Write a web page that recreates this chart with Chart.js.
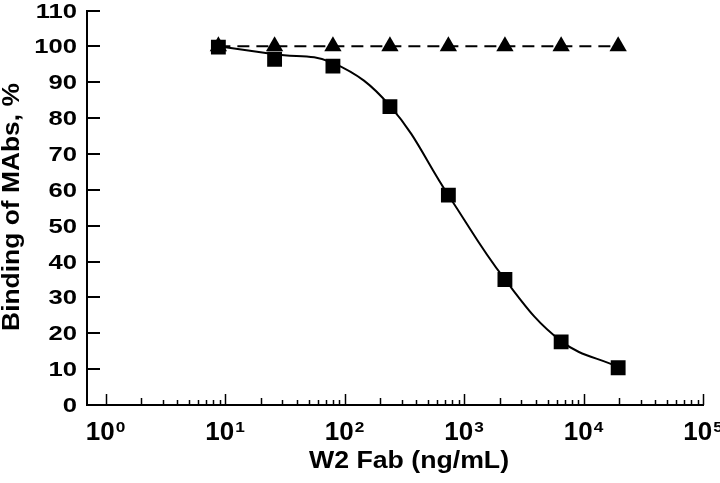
<!DOCTYPE html>
<html>
<head>
<meta charset="utf-8">
<script src="https://cdn.jsdelivr.net/npm/chart.js@4/dist/chart.umd.min.js"></script>
<style>
  body { margin: 0; background: #fff; }
  canvas { display: block; }
</style>
</head>
<body>
<canvas id="myChart" width="720" height="483"></canvas>
<script>
// concentracion de W2 Fab (ng/mL), eje x logaritmico
const xValues = [8.8, 26, 80, 240, 740, 2200, 6500, 19500]
// union de MAbs (%) - cuadrados
const squareValues = [99.8, 96.4, 94.5, 83.2, 58.5, 35, 17.6, 10.4]
const fitValues = [100, 97.8, 95.4, 83.4, 58.5, 35, 17.8, 10.6]
// union de MAbs (%) - triangulos con linea discontinua
const triangleValues = [100, 100, 100, 100, 100, 100, 100, 100]

const xTickPowers = [0, 1, 2, 3, 4, 5]
const yTickValues = [0, 10, 20, 30, 40, 50, 60, 70, 80, 90, 100, 110]
const xTitle = 'W2 Fab (ng/mL)'
const yTitle = 'Binding of MAbs, %'

const FONT = '"Liberation Sans", Arial, Helvetica, sans-serif'

function drawText (ctx, text, x, y, size, sx, align, baseline) {
  ctx.save()
  ctx.translate(x, y)
  ctx.scale(sx, 1)
  ctx.font = 'bold ' + size + 'px ' + FONT
  ctx.textAlign = align
  ctx.textBaseline = baseline
  ctx.fillStyle = '#000'
  ctx.fillText(text, 0, 0)
  ctx.restore()
}

// Marcas hacia adentro y etiquetas (con superindice en el eje x)
const axesPlugin = {
  id: 'axesPlugin',
  afterDraw (chart) {
    const ctx = chart.ctx
    const xs = chart.scales.x
    const ys = chart.scales.y
    const area = chart.chartArea
    ctx.save()
    ctx.strokeStyle = '#000'
    ctx.lineWidth = 2

    // eje y
    for (const v of yTickValues) {
      const py = Math.round(ys.getPixelForValue(v))
      ctx.beginPath()
      ctx.moveTo(area.left, py)
      ctx.lineTo(area.left + 13, py)
      ctx.stroke()
      drawText(ctx, String(v), 77, py + 1, 21, 1.22, 'right', 'middle')
    }

    // eje x
    ctx.lineWidth = 1.5
    for (const p of xTickPowers) {
      for (let k = 1; k <= 9; k++) {
        const val = k * Math.pow(10, p)
        if (val > xs.max || val < xs.min) continue
        const px = Math.round(xs.getPixelForValue(val)) + 0.5
        const len = k === 1 ? 11 : (k === 2 ? 7 : 5)
        ctx.beginPath()
        ctx.moveTo(px, area.bottom)
        ctx.lineTo(px, area.bottom - len)
        ctx.stroke()
      }
    }

    for (const p of xTickPowers) {
      const px = xs.getPixelForValue(Math.pow(10, p))
      ctx.font = 'bold 25px ' + FONT
      const wBase = ctx.measureText('10').width * 1.04
      ctx.font = 'bold 15px ' + FONT
      const wSup = ctx.measureText(String(p)).width * 1.15
      const start = px - (wBase + 1 + wSup) / 2
      drawText(ctx, '10', start, 440, 25, 1.04, 'left', 'alphabetic')
      drawText(ctx, String(p), start + wBase + 1, 432, 15, 1.15, 'left', 'alphabetic')
    }

    // titulos
    drawText(ctx, xTitle, 409, 468, 23, 1.16, 'center', 'alphabetic')
    ctx.save()
    ctx.translate(19, 207)
    ctx.rotate(-Math.PI / 2)
    drawText(ctx, yTitle, 0, 0, 24, 1.1, 'center', 'alphabetic')
    ctx.restore()

    ctx.restore()
  }
}

const data = {
  datasets: [
    {
      label: 'Curva',
      data: xValues.map((x, i) => ({ x, y: fitValues[i] })),
      borderColor: '#000',
      borderWidth: 2,
      tension: 0.4,
      pointRadius: 0,
      order: 3
    },
    {
      label: 'Cuadrados',
      data: xValues.map((x, i) => ({ x, y: squareValues[i] })),
      backgroundColor: '#000',
      showLine: false,
      pointStyle: 'rect',
      pointRadius: 10.5,
      pointBorderWidth: 0,
      order: 1
    },
    {
      label: 'Triangulos',
      data: xValues.map((x, i) => ({ x, y: triangleValues[i] })),
      borderColor: '#000',
      backgroundColor: '#000',
      borderWidth: 2,
      borderDash: [12, 7],
      tension: 0,
      pointStyle: 'triangle',
      pointRadius: 10,
      pointBorderWidth: 0,
      order: 2
    }
  ]
}

const config = {
  type: 'line',
  data,
  options: {
    responsive: false,
    animation: false,
    devicePixelRatio: 1,
    layout: { padding: { top: 10, right: 17, left: 0, bottom: 0 } },
    plugins: { legend: { display: false }, tooltip: { enabled: false } },
    scales: {
      x: {
        type: 'logarithmic',
        min: 0.72,
        max: 100000,
        grid: { display: false },
        border: { display: true, color: '#000', width: 2 },
        ticks: { display: false },
        afterFit (s) { s.height = 78 }
      },
      y: {
        min: 0,
        max: 110,
        grid: { display: false },
        border: { display: true, color: '#000', width: 2 },
        ticks: { display: false },
        afterFit (s) { s.width = 87 }
      }
    }
  },
  plugins: [axesPlugin]
}

const chart = new Chart(document.getElementById('myChart'), config)
</script>
</body>
</html>
